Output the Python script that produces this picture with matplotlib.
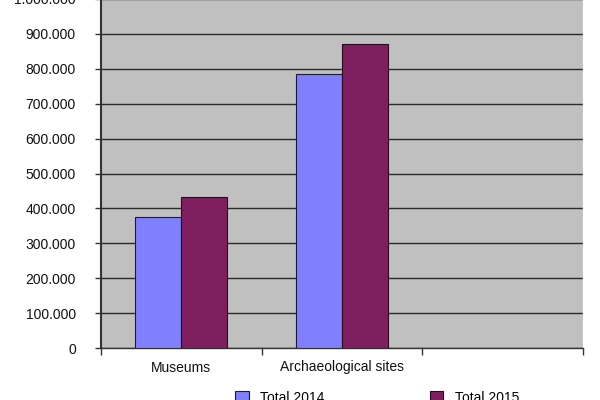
import matplotlib
matplotlib.use("Agg")
import matplotlib.pyplot as plt
import numpy as np
from matplotlib.ticker import FuncFormatter

categories = ["Museums", "Archaeological sites", ""]
series_names = ["Total 2014", "Total 2015"]
values_2014 = [375000, 785000, 0]
values_2015 = [433000, 871000, 0]
yticks = list(range(0, 1000001, 100000))

plt.rcParams['font.family'] = ['Liberation Sans', 'DejaVu Sans']

fig = plt.figure(figsize=(6, 4), dpi=100)
ax = fig.add_axes([101/600, 1-348/400, (583-101)/600, (348+1)/400])
ax.set_facecolor("#C0C0C0")

x = np.arange(len(categories))
w = 0.286
b1 = ax.bar(x[:2] - w/2, values_2014[:2], w, color="#8080FF", edgecolor="#1a1a3a", linewidth=0.8, zorder=3, label=series_names[0])
b2 = ax.bar(x[:2] + w/2, values_2015[:2], w, color="#7F1F5F", edgecolor="#2a0a20", linewidth=0.8, zorder=3, label=series_names[1])

ax.set_xlim(-0.5, 2.5)
ax.set_ylim(0, 1000000)
ax.set_yticks(yticks)
ax.yaxis.set_major_formatter(FuncFormatter(lambda v, p: f"{int(v):,}".replace(",", ".")))
ax.grid(axis="y", color="#2a2a2a", linewidth=1.0, zorder=1)
ax.set_xticks([-0.5, 0.5, 1.5, 2.5])
ax.set_xticklabels([])
ax.set_xticks(x, minor=True)
ax.set_xticklabels(categories, minor=True)
ax.tick_params(axis="x", which="minor", length=0, pad=9, labelsize=10, labelcolor="#111111")
ax.tick_params(axis="x", which="major", length=5, width=1, color="#333333", direction="out")
ax.tick_params(axis="y", length=4, width=1, color="#333333", direction="out", labelsize=10, pad=14, labelcolor="#111111")
for s in ["top", "right"]:
    ax.spines[s].set_visible(False)
ax.spines["left"].set_color("#333333")
ax.spines["left"].set_linewidth(1.5)
ax.spines["bottom"].set_color("#333333")
ax.spines["bottom"].set_linewidth(1.0)
ax.axvline(2.5, color="#E0E0E0", linewidth=1.0, zorder=2)

fig.legend(handles=[b1, b2], labels=series_names, loc="upper center", bbox_to_anchor=(0.628, 0.055),
           ncol=2, frameon=False, fontsize=10, columnspacing=7.6, handlelength=1.0, handleheight=1.0)

fig.savefig("out.png", dpi=100)
